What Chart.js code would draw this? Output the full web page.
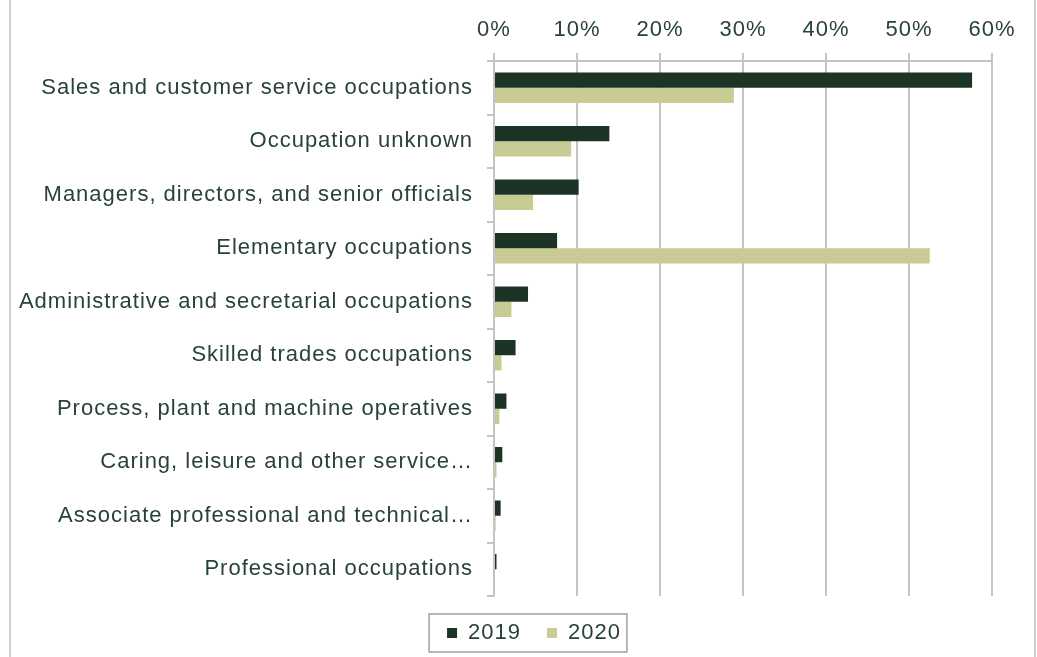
<!DOCTYPE html>
<html>
<head>
<meta charset="utf-8">
<script src="https://cdn.jsdelivr.net/npm/chart.js@4"></script>
<style>
  html, body { margin: 0; padding: 0; background: #fff; }
  #wrap { width: 1037px; height: 657px; position: relative; }
</style>
</head>
<body>
<div id="wrap"><canvas id="occupation-chart"></canvas></div>
<script>
'use strict';

const categories = [
    'Sales and customer service occupations',
    'Occupation unknown',
    'Managers, directors, and senior officials',
    'Elementary occupations',
    'Administrative and secretarial occupations',
    'Skilled trades occupations',
    'Process, plant and machine operatives',
    'Caring, leisure and other service\u2026',
    'Associate professional and technical\u2026',
    'Professional occupations'
];
const values2019 = [57.6, 13.9, 10.2, 7.6, 4.1, 2.6, 1.5, 1.0, 0.8, 0.3];
const values2020 = [28.9, 9.3, 4.7, 52.5, 2.1, 0.9, 0.65, 0.3, 0.2, 0.05];
const seriesNames = ['2019', '2020'];
const xTicks = [0, 10, 20, 30, 40, 50, 60];

const textColor = '#284236';
const lineColor = '#c4c4c4';
const fontFamily = '"Liberation Sans", Arial, sans-serif';

// canvas state resets on resize, so spacing is set again before measuring and drawing
const letterSpacing = {
    id: 'letterSpacing',
    beforeUpdate: (chart) => { chart.ctx.letterSpacing = '1px'; },
    beforeDraw: (chart) => { chart.ctx.letterSpacing = '1px'; }
};

const frame = {
    id: 'frame',
    afterLayout: (chart) => {
        // legend sits a little right of the canvas centre in the original
        chart.legend.left += 76;
    },
    beforeDraw: (chart) => {
        const ctx = chart.ctx;
        ctx.save();
        ctx.fillStyle = '#fff';
        ctx.fillRect(0, 0, chart.width, chart.height);
        ctx.restore();
    },
    afterDraw: (chart) => {
        const ctx = chart.ctx;
        ctx.save();
        ctx.strokeStyle = '#cfcfcf';
        ctx.lineWidth = 2;
        ctx.beginPath();
        ctx.moveTo(10, 0);
        ctx.lineTo(10, chart.height);
        ctx.moveTo(1035, 0);
        ctx.lineTo(1035, chart.height);
        ctx.stroke();

        // box around the legend
        const boxes = chart.legend.legendHitBoxes;
        if (boxes && boxes.length) {
            const left = boxes[0].left - 18;
            const last = boxes[boxes.length - 1];
            const right = last.left + last.width + 6;
            const top = boxes[0].top - 8;
            const bottom = boxes[0].top + boxes[0].height + 8;
            ctx.strokeStyle = '#9aa39c';
            ctx.lineWidth = 1.5;
            ctx.strokeRect(left, top, right - left, bottom - top);
        }
        ctx.restore();
    }
};

const chart = new Chart(document.getElementById('occupation-chart').getContext('2d'), {
    type: 'bar',
    data: {
        labels: categories,
        datasets: [{
            label: seriesNames[0],
            data: values2019,
            backgroundColor: '#1c3326',
            borderWidth: 0,
            categoryPercentage: 0.57,
            barPercentage: 1.0
        }, {
            label: seriesNames[1],
            data: values2020,
            backgroundColor: '#c8cc94',
            borderWidth: 0,
            categoryPercentage: 0.57,
            barPercentage: 1.0
        }]
    },
    options: {
        indexAxis: 'y',
        responsive: true,
        maintainAspectRatio: false,
        animation: false,
        layout: { padding: { left: 0, right: 45, top: 0, bottom: 3 } },
        font: { family: fontFamily, size: 22 },
        color: textColor,
        scales: {
            x: {
                position: 'top',
                min: xTicks[0],
                max: xTicks[xTicks.length - 1],
                afterFit: (scale) => { scale.height = 61; },
                afterBuildTicks: (scale) => { scale.ticks = xTicks.map(v => ({ value: v })); },
                ticks: {
                    color: textColor,
                    padding: 10,
                    font: { family: fontFamily, size: 22 },
                    callback: (v) => v + '%'
                },
                grid: { color: lineColor, lineWidth: 2, tickLength: 8 },
                border: { color: lineColor, width: 2 }
            },
            y: {
                afterFit: (scale) => { scale.width = 494; },
                ticks: {
                    color: textColor,
                    padding: 14,
                    autoSkip: false,
                    font: { family: fontFamily, size: 22 }
                },
                grid: { drawOnChartArea: false, drawTicks: true, tickLength: 7, color: lineColor, lineWidth: 2 },
                border: { color: lineColor, width: 2 }
            }
        },
        plugins: {
            legend: {
                position: 'bottom',
                labels: {
                    color: textColor,
                    boxWidth: 10,
                    boxHeight: 10,
                    padding: 26,
                    font: { family: fontFamily, size: 22 }
                }
            },
            tooltip: { enabled: false }
        }
    },
    plugins: [letterSpacing, frame]
});
</script>
</body>
</html>
